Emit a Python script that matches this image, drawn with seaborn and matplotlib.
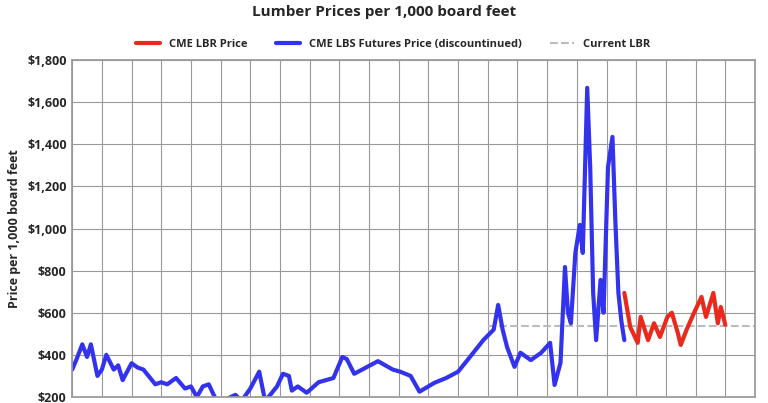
import matplotlib
matplotlib.use("Agg")
import matplotlib.pyplot as plt
import seaborn as sns
import pandas as pd
import numpy as np

sns.set_theme(style="white")
plt.rcParams['font.family'] = ['Open Sans', 'DejaVu Sans']

blue_t = [2004.0,2004.15,2004.34,2004.5,2004.63,2004.85,2005.0,2005.15,2005.4,2005.55,2005.7,2006.0,2006.2,2006.4,2006.8,2007.0,2007.2,2007.5,2007.8,2008.0,2008.2,2008.4,2008.6,2008.9,2009.2,2009.5,2009.7,2010.0,2010.3,2010.5,2010.9,2011.1,2011.3,2011.4,2011.6,2011.9,2012.3,2012.8,2013.1,2013.25,2013.5,2013.9,2014.3,2014.8,2015.05,2015.4,2015.7,2016.2,2016.6,2017.0,2017.4,2017.85,2018.2,2018.35,2018.5,2018.65,2018.9,2019.1,2019.45,2019.8,2020.1,2020.25,2020.45,2020.6,2020.7,2020.8,2020.95,2021.1,2021.2,2021.35,2021.45,2021.55,2021.65,2021.8,2021.9,2022.05,2022.2,2022.3,2022.4,2022.5,2022.6]
blue_v = [330,380,450,390,450,300,330,400,330,350,280,360,340,330,260,270,260,290,240,250,200,250,260,170,190,210,180,240,320,180,250,310,300,230,250,220,270,290,390,380,310,340,370,330,320,300,225,267,290,320,390,470,520,637,520,437,343,410,375,410,457,257,362,817,600,550,884,1017,884,1668,1292,694,470,756,600,1292,1435,1027,694,560,470]
red_t = [2022.6,2022.8,2023.05,2023.15,2023.4,2023.6,2023.8,2024.05,2024.2,2024.4,2024.5,2024.7,2024.95,2025.2,2025.35,2025.6,2025.75,2025.85,2026.0]
red_v = [694,532,457,580,470,550,485,580,600,505,447,520,600,675,580,694,550,627,543]
current_lbr = 535
lbr_start, lbr_end = 2018.0, 2027.0

fig = plt.figure(figsize=(7.68, 4.03), dpi=100)
ax = fig.add_axes([0.094, 0.015, 0.889, 0.836])
sns.lineplot(x=red_t, y=red_v, ax=ax, color="#e8291c", lw=3, label="CME LBR Price")
sns.lineplot(x=blue_t, y=blue_v, ax=ax, color="#3333ee", lw=3, label="CME LBS Futures Price (discountinued)")
ax.plot([lbr_start, lbr_end], [current_lbr, current_lbr], ls="--", color="#bbbbbb", lw=1.5, label="Current LBR", zorder=1)
# redraw red on top
ax.lines[0].set_zorder(3)
ax.set_xlim(2004, 2027)
ax.set_ylim(200, 1800)
ax.set_xticks(np.arange(2004, 2028, 1))
ax.set_xticklabels([])
ax.set_yticks(np.arange(200, 1801, 200))
ax.set_yticklabels([f"${v:,}" for v in range(200, 1801, 200)], fontsize=9, fontweight="bold")
ax.grid(True, color="#999999", lw=0.8)
for s in ax.spines.values():
    s.set_color("#999999")
ax.tick_params(axis='both', length=0, pad=4)
ax.set_ylabel("Price per 1,000 board feet", fontsize=9, fontweight="bold")
ax.set_xlabel("")
fig.text(0.5, 0.97, "Lumber Prices per 1,000 board feet", ha="center", va="center", fontsize=11, fontweight="bold")
ax.legend(loc="lower center", bbox_to_anchor=(0.47, 1.0), ncol=3, frameon=False, fontsize=8,
          prop={"weight": "bold", "size": 8}, handlelength=2.2, columnspacing=2.5)
fig.savefig("out.png", dpi=100)
